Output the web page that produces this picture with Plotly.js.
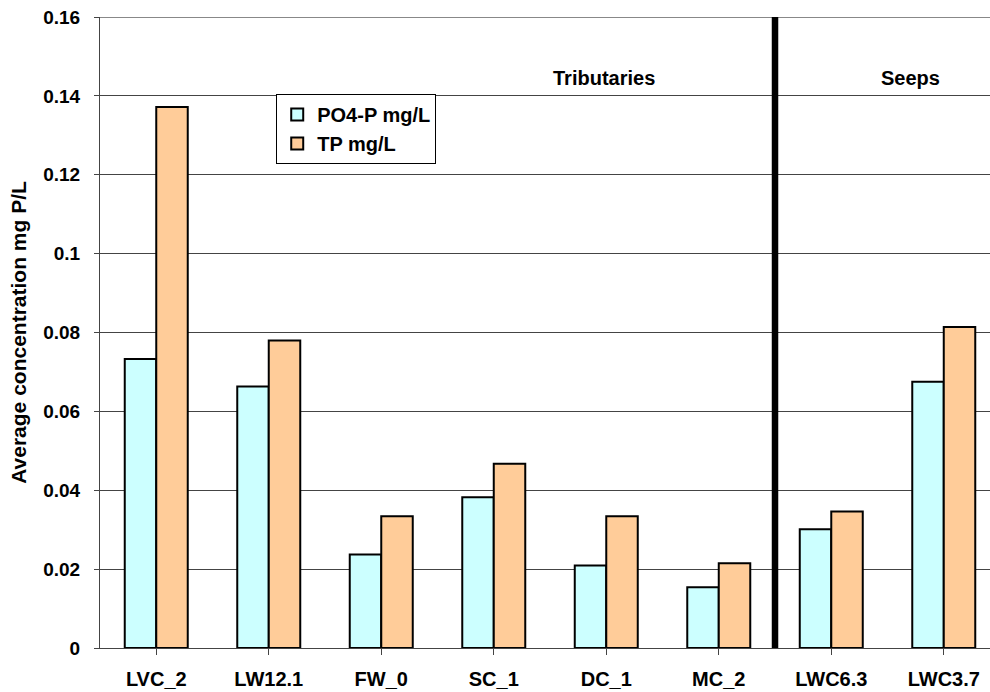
<!DOCTYPE html>
<html>
<head>
<meta charset="utf-8">
<script src="https://cdn.plot.ly/plotly-3.0.1.min.js"></script>
<style>html,body{margin:0;padding:0;background:#fff;}#chart{width:990px;height:692px;}</style>
</head>
<body>
<div id="chart"></div>
<script>
const sites = ["LVC_2", "LW12.1", "FW_0", "SC_1", "DC_1", "MC_2", "LWC6.3", "LWC3.7"];
const po4 = [0.0733, 0.0663, 0.0237, 0.0382, 0.0209, 0.0154, 0.0301, 0.0675];
const tp = [0.1372, 0.0780, 0.0334, 0.0467, 0.0334, 0.0215, 0.0346, 0.0814];
const seriesNames = ["PO4-P mg/L", "TP mg/L"];
const groupLabels = ["Tributaries", "Seeps"];
const yTicks = [0, 0.02, 0.04, 0.06, 0.08, 0.1, 0.12, 0.14, 0.16];

const fam = "Liberation Sans, Arial, sans-serif";
const idx = sites.map((s, i) => i);

const traces = [
  {type: "bar", x: idx, y: po4, name: seriesNames[0], legendgroup: "a",
   marker: {color: "#CCFFFF", line: {color: "#000", width: 2}}},
  {type: "bar", x: idx, y: tp, name: seriesNames[1], legendgroup: "b",
   marker: {color: "#FFCC99", line: {color: "#000", width: 2}}}
];

const layout = {
  width: 990, height: 692,
  margin: {l: 100, r: 0, t: 17, b: 44},
  paper_bgcolor: "#fff", plot_bgcolor: "#fff",
  font: {family: fam, size: 16, color: "#000"},
  barmode: "group", bargap: 0.44, bargroupgap: 0,
  showlegend: true,
  legend: {x: 0.198, y: 0.878, xanchor: "left", yanchor: "top",
           bordercolor: "#000", borderwidth: 1, bgcolor: "#fff",
           font: {family: fam, size: 20, color: "#000", weight: "bold"},
           itemwidth: 30, traceorder: "grouped", tracegroupgap: 0},
  xaxis: {
    range: [-0.5, 7.411], tickmode: "array", tickvals: idx, ticktext: sites,
    tickson: "boundaries", ticks: "outside", ticklen: 6, tickcolor: "#444",
    showline: true, linecolor: "#444", linewidth: 1,
    showgrid: false, zeroline: false, fixedrange: true,
    ticklabelstandoff: 7,
    tickfont: {family: fam, size: 20, color: "#000", weight: "bold"}
  },
  yaxis: {
    range: [0, 0.16], tickmode: "array", tickvals: yTicks,
    ticktext: yTicks.map(v => String(v)),
    ticks: "outside", ticklen: 5, tickcolor: "#444",
    showline: true, linecolor: "#444", linewidth: 1,
    showgrid: true, gridcolor: "#444", gridwidth: 1, zeroline: false,
    ticklabelstandoff: 10,
    tickfont: {family: fam, size: 19, color: "#000", weight: "bold"},
    title: {text: "Average concentration mg P/L", standoff: 10,
            font: {family: fam, size: 21, color: "#000", weight: "bold"}}
  },
  shapes: [
    {type: "line", xref: "paper", yref: "y", x0: 0, x1: 1, y0: 0.16, y1: 0.16,
     line: {color: "#888", width: 2}},
    {type: "line", xref: "x", yref: "paper", x0: 5.5, x1: 5.5, y0: 0, y1: 1,
     line: {color: "#000", width: 6.5}}
  ],
  annotations: [
    {xref: "x", yref: "y", x: 3.984, y: 0.1445, text: groupLabels[0], showarrow: false,
     font: {family: fam, size: 20, color: "#000", weight: "bold"}},
    {xref: "x", yref: "y", x: 6.704, y: 0.1445, text: groupLabels[1], showarrow: false,
     font: {family: fam, size: 20, color: "#000", weight: "bold"}}
  ]
};

Plotly.newPlot("chart", traces, layout, {displayModeBar: false, staticPlot: true});
</script>
</body>
</html>
